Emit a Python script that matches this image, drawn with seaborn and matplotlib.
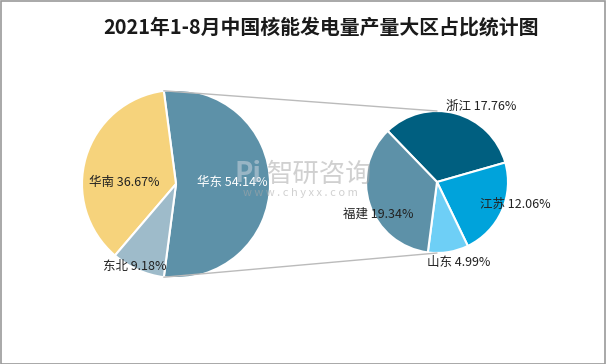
# 2021年1-8月中国核能发电量产量大区占比统计图 - pie of pie chart

import matplotlib
matplotlib.use("Agg")
import matplotlib.pyplot as plt
import seaborn as sns
from matplotlib.patches import ConnectionPatch, Rectangle
import numpy as np

# -----------------------------
# Data
# -----------------------------
region_names = ["华东", "华南", "东北"]
region_shares = [54.14, 36.67, 9.18]

province_names = ["浙江", "江苏", "山东", "福建"]
province_shares = [17.76, 12.06, 4.99, 19.34]

title_text = "2021年1-8月中国核能发电量产量大区占比统计图"

# -----------------------------
# Style
# -----------------------------
sns.set_theme(style="white")
plt.rcParams["font.family"] = ["Noto Sans CJK SC", "DejaVu Sans"]

region_colors = ["#5D91A8", "#F6D37C", "#9EBBCA"]
province_colors = ["#005F80", "#00A3DB", "#6ECFF6", "#5D91A8"]
region_text_colors = ["white", "#222222", "#222222"]

W, H = 606, 364
fig = plt.figure(figsize=(W / 100, H / 100), dpi=100)
fig.patch.set_facecolor("white")

# outer border
fig.patches.append(Rectangle((0.5 / W, 0.5 / H), 1 - 1.5 / W, 1 - 1.5 / H,
                             transform=fig.transFigure, fill=False,
                             edgecolor="#9A9A9A", linewidth=1.2))

fig.text(321 / W, 1 - 27 / H, title_text, ha="center", va="center",
         fontsize=14.3, fontweight="bold", color="#1A1A1A")


def pie_axes(cx, cy, r):
    # cx, cy in pixels from top-left, r in pixels
    ax = fig.add_axes([(cx - r) / W, (H - cy - r) / H, 2 * r / W, 2 * r / H])
    ax.axis("off")
    return ax


def fix_limits(ax):
    ax.set_xlim(-1, 1)
    ax.set_ylim(-1, 1)
    ax.set_aspect("equal")


# -----------------------------
# Left pie (regions)
# -----------------------------
ax1 = pie_axes(176, 184, 94)
start1 = -region_shares[0] / 100 * 360 / 2
wedges1, _ = ax1.pie(region_shares, colors=region_colors, startangle=start1,
                     radius=1, wedgeprops=dict(edgecolor="white", linewidth=1.5))
fix_limits(ax1)

left_label_pos = [(0.60, 0.02), (-0.55, 0.02), (-0.44, -0.88)]
for name, val, (x, y), c in zip(region_names, region_shares, left_label_pos, region_text_colors):
    ax1.text(x, y, f"{name} {val:.2f}%", ha="center", va="center",
             fontsize=9, color=c, clip_on=False)

# -----------------------------
# Right pie (provinces of 华东)
# -----------------------------
ax2 = pie_axes(437, 182, 71)
wedges2, _ = ax2.pie(province_shares, colors=province_colors, startangle=134,
                     counterclock=False, radius=1,
                     wedgeprops=dict(edgecolor="white", linewidth=1.5))
fix_limits(ax2)

right_label_pos = [(0.62, 1.06), (1.10, -0.32), (0.30, -1.13), (-0.83, -0.46)]
for name, val, (x, y) in zip(province_names, province_shares, right_label_pos):
    ax2.text(x, y, f"{name} {val:.2f}%", ha="center", va="center",
             fontsize=9, color="#222222", clip_on=False)

# -----------------------------
# Connection lines
# -----------------------------
w = wedges1[0]
for theta, ytarget in [(w.theta2, 1), (w.theta1, -1)]:
    xa, ya = np.cos(np.radians(theta)), np.sin(np.radians(theta))
    con = ConnectionPatch(xyA=(xa, ya), coordsA=ax1.transData,
                          xyB=(0, ytarget), coordsB=ax2.transData,
                          color="#BBBBBB", linewidth=1)
    fig.add_artist(con)

# -----------------------------
# Watermark (semi-transparent, on top)
# -----------------------------
fig.text(248 / W, 1 - 174 / H, "Pi", fontsize=20, fontweight="bold",
         color="#C9D3DD", ha="center", va="center", alpha=0.55, zorder=10)
fig.text(320 / W, 1 - 174 / H, "智研咨询", fontsize=19, color="#AAAAAA",
         ha="center", va="center", alpha=0.55, zorder=10)
fig.text(300 / W, 1 - 193 / H, "w w w . c h y x x . c o m", fontsize=8,
         color="#AAAAAA", ha="center", va="center", alpha=0.55, zorder=10)

plt.savefig("out.png", dpi=100)
plt.close()
